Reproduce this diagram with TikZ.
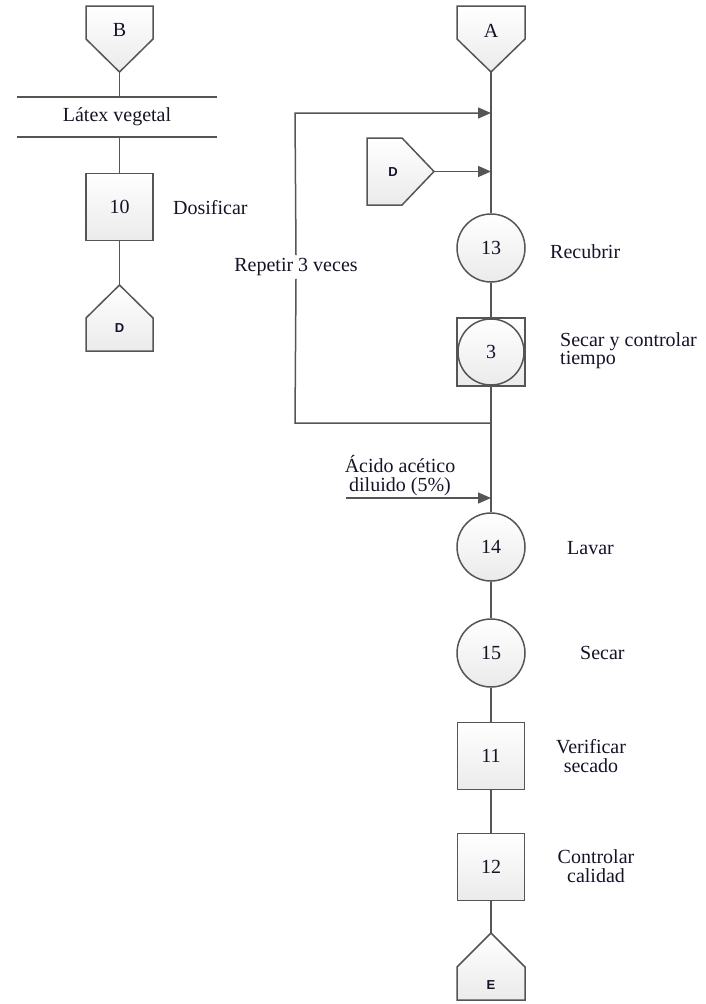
\documentclass[tikz,border=0pt]{standalone}
\usepackage{fontspec}
\setmainfont{Liberation Serif}
\setsansfont{Liberation Sans}
\usetikzlibrary{arrows.meta}
\definecolor{ln}{RGB}{85,85,85}
\definecolor{txt}{RGB}{20,20,40}
\begin{document}
\begin{tikzpicture}[x=1pt,y=-1pt,
  line/.style={draw=ln,line width=1.5pt},
  arr/.style={line,-{Triangle[length=13pt,width=11pt]}},
  shp/.style={draw=ln,line width=1.5pt,top color=white,bottom color=gray!16},
  box/.style={shp,minimum width=67pt,minimum height=67pt,inner sep=0pt,font=\fontsize{20}{20}\selectfont,text=txt},
  circ/.style={shp,circle,minimum size=68pt,inner sep=0pt,font=\fontsize{20}{20}\selectfont,text=txt},
  lbl/.style={font=\fontsize{20}{19}\selectfont,text=txt,align=center,inner sep=0pt},
  sml/.style={font=\sffamily\bfseries\fontsize{13}{13}\selectfont,text=txt,inner sep=0pt}
]
\useasboundingbox (0,0) rectangle (706,1004);

% ---- left column ----
\path[shp] (86,6) -- (153,6) -- (153,39) -- (119.5,72) -- (86,39) -- cycle;
\node[lbl] (B) at (119.5,30) {B};
\coordinate (Bp) at (119.5,72);
\coordinate (l1a) at (17,97);
\coordinate (l1b) at (217,97);
\coordinate (l2a) at (17,137);
\coordinate (l2b) at (217,137);
\draw[line] (l1a) -- (l1b);
\draw[line] (l2a) -- (l2b);
\node[lbl] (latex) at (117,117) {Látex vegetal};
\coordinate (lt) at (119.5,97);
\coordinate (lb) at (119.5,137);
\node[box] (b10) at (119.5,207) {10};
\node[lbl,anchor=west] (dos) at (173,208) {Dosificar};
\path[shp] (119.5,285) -- (153,318) -- (153,351) -- (86,351) -- (86,318) -- cycle;
\node[sml] (D1) at (119.5,328) {D};
\coordinate (D1p) at (119.5,285);
\draw[line] (Bp) -- (lt);
\draw[line] (lb) -- (b10.north);
\draw[line] (b10.south) -- (D1p);

% ---- right column ----
\path[shp] (457,6) -- (525,6) -- (525,39) -- (491,72) -- (457,39) -- cycle;
\node[lbl] (A) at (491,31) {A};
\coordinate (Ap) at (491,72);
\path[shp] (367,138) -- (402,138) -- (434,171.5) -- (402,205) -- (367,205) -- cycle;
\node[sml] (D2) at (393,172) {D};
\coordinate (D2p) at (434,171.5);
\coordinate (j1) at (491,113);
\coordinate (j2) at (491,171.5);
\node[circ] (c13) at (491,248) {13};
\node[lbl,anchor=west] (rec) at (550,252) {Recubrir};
\node[box,minimum width=68pt,minimum height=68pt] (b3) at (491,352) {};
\node[circ,minimum size=66pt] (c3) at (491,352) {3};
\node[lbl,anchor=west,align=left,font=\fontsize{20}{18}\selectfont] (sec) at (560,351) {Secar y controlar\\tiempo};
\coordinate (j3) at (491,423);
\coordinate (lp1) at (295,423);
\coordinate (lp2) at (295,113);
\node[lbl,fill=white,inner ysep=3pt] (rep) at (296,267) {Repetir 3 veces};
\coordinate (acs) at (346,498);
\coordinate (j4) at (491,498);
\node[lbl] (acid) at (400,476) {Ácido acético\\diluido (5\%)};
\node[circ] (c14) at (491,547) {14};
\node[lbl,anchor=west] (lav) at (567,548) {Lavar};
\node[circ] (c15) at (491,653) {15};
\node[lbl,anchor=west] (sc) at (580,653) {Secar};
\node[box] (b11) at (491,756) {11};
\node[lbl] (ver) at (591,756) {Verificar\\secado};
\node[box] (b12) at (491,867) {12};
\node[lbl] (con) at (596,866) {Controlar\\calidad};
\path[shp] (491,933) -- (525,967) -- (525,1000) -- (457,1000) -- (457,967) -- cycle;
\node[sml] (E) at (491,985) {E};
\coordinate (Ep) at (491,933);

% connectors
\draw[line] (Ap) -- (c13.north);
\draw[line] (j3) -- (lp1) -- (rep.south);
\draw[arr] (rep.north) -- (lp2) -- (j1);
\draw[arr] (D2p) -- (j2);
\draw[line] (c13.south) -- (b3.north);
\draw[line] (b3.south) -- (c14.north);
\draw[arr] (acs) -- (j4);
\draw[line] (c14.south) -- (c15.north);
\draw[line] (c15.south) -- (b11.north);
\draw[line] (b11.south) -- (b12.north);
\draw[line] (b12.south) -- (Ep);
\end{tikzpicture}
\end{document}
